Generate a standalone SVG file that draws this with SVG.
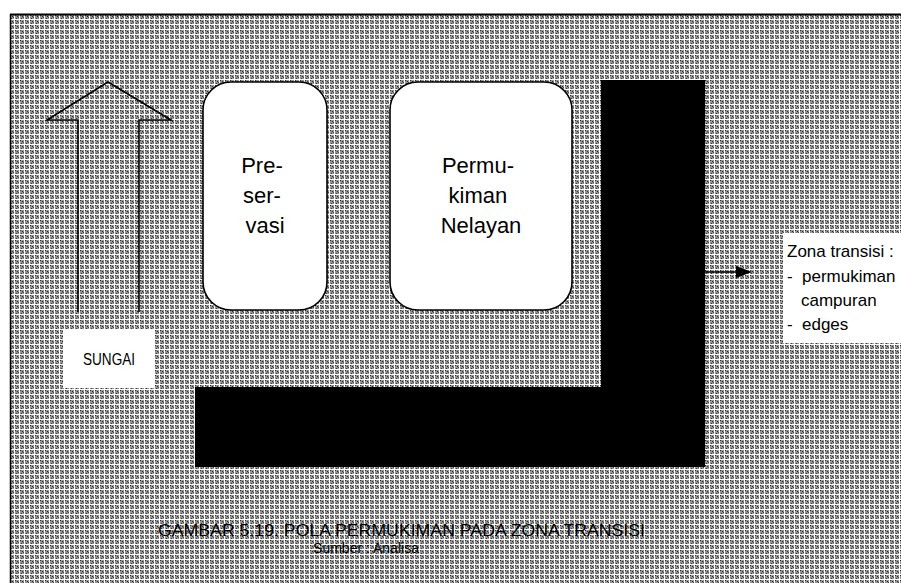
<svg xmlns="http://www.w3.org/2000/svg" width="901" height="583" viewBox="0 0 901 583">
<defs>
<style>
.t{font-family:"Liberation Sans",Arial,sans-serif;fill:#000}
.box{fill:#fff;stroke:#000;stroke-width:1.6}
.lbl{fill:#fff;stroke:none}
.blk{fill:#000}
.conn{stroke:#000;stroke-width:1.6;fill:none}
</style>
<pattern id="halftone" width="5" height="5" patternUnits="userSpaceOnUse">
<rect width="5" height="5" fill="#fff"/>
<rect x="0" y="0" width="4" height="4" fill="#949494"/>
<rect x="0" y="0" width="1" height="1" fill="#2a2a2a"/>
<rect x="2" y="1" width="1" height="1" fill="#2a2a2a"/>
<rect x="1" y="3" width="1" height="1" fill="#3a3a3a"/>
<rect x="3" y="2" width="1" height="1" fill="#4a4a4a"/>
</pattern>
</defs>
<rect width="901" height="583" fill="#fff"/>
<g id="frame">
<rect x="10" y="14" width="891" height="569" fill="url(#halftone)"/>
<line x1="10" y1="14.5" x2="901" y2="14.5" stroke="#000" stroke-width="2"/>
<line x1="10.5" y1="14" x2="10.5" y2="583" stroke="#000" stroke-width="1.5"/>
</g>
<g id="river-arrow">
<polyline class="conn" stroke-width="2" points="78,312 78,120 47,120 108,82 171,120 139,120 139,312"/>
</g>
<g id="sungai">
<rect class="lbl" x="63" y="329" width="92" height="59"/>
<text class="t" x="83" y="365" font-size="16" textLength="52" lengthAdjust="spacingAndGlyphs">SUNGAI</text>
</g>
<g id="preservasi">
<rect class="box" x="203" y="82" width="124" height="228" rx="28" ry="28"/>
<text class="t" font-size="22" text-anchor="middle">
<tspan x="265" y="173">Pre-</tspan>
<tspan x="265" y="203">ser-</tspan>
<tspan x="265" y="233">vasi</tspan>
</text>
</g>
<g id="permukiman-nelayan">
<rect class="box" x="390" y="82" width="182" height="228" rx="28" ry="28"/>
<text class="t" font-size="22" text-anchor="middle">
<tspan x="481" y="173">Permu-</tspan>
<tspan x="481" y="203">kiman</tspan>
<tspan x="481" y="233">Nelayan</tspan>
</text>
</g>
<g id="zona-edge">
<path class="blk" d="M601,80 H705 V467 H195 V387 H601 Z"/>
</g>
<g id="zona-transisi">
<rect class="lbl" x="783" y="233" width="118" height="110"/>
<text class="t" font-size="17">
<tspan x="787" y="257">Zona transisi :</tspan>
<tspan x="787" y="282">-</tspan>
<tspan x="802" y="282">permukiman</tspan>
<tspan x="801" y="306">campuran</tspan>
<tspan x="787" y="330">-</tspan>
<tspan x="802" y="330">edges</tspan>
</text>
</g>
<g id="connectors">
<line class="conn" x1="705" y1="272" x2="738" y2="272"/>
<polygon points="736,266 752,272 736,278" fill="#000"/>
</g>
<g id="caption">
<text class="t" x="158" y="536" font-size="16" textLength="487" lengthAdjust="spacingAndGlyphs">GAMBAR 5.19. POLA PERMUKIMAN PADA ZONA TRANSISI</text>
<text class="t" x="366" y="553" font-size="14" text-anchor="middle">Sumber : Analisa</text>
</g>
</svg>
